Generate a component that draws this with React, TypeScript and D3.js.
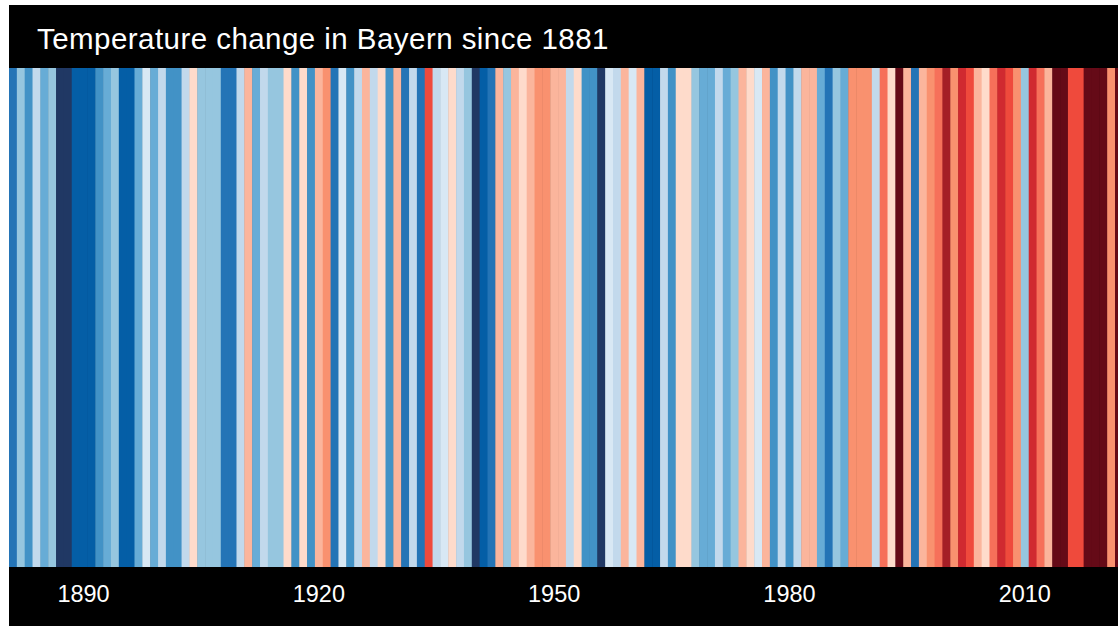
import React from 'react';
import * as d3 from 'd3';

// years shown in the stripes
const years: number[] = d3.range(1881, 2023);

// annual temperature anomaly (°C)
const anomalies: number[] = [
  -1.4, -0.6, -1.1, -0.4, -0.9, -0.6, -1.9, -1.9, -1.6, -1.6,
  -1.6, -1.1, -0.9, -0.6, -1.6, -1.6, -0.9, -0.1, -0.9, -0.4,
  -1.1, -1.1, -0.4, 0.1, -0.6, -0.6, -0.6, -1.4, -1.4, -0.4,
  0.4, -0.9, -0.4, -0.6, -0.6, 0.1, -1.1, 0.1, -1.1, 0.4,
  0.6, -1.4, -0.1, -1.1, -0.4, 0.4, -0.4, 0.1, -1.1, 0.4,
  -1.4, -0.4, -1.4, 1.1, -0.4, -0.1, 0.1, -0.4, -0.6, -1.9,
  -1.6, -1.4, 0.4, -0.6, 0.4, 0.1, 0.4, 0.6, 0.6, 0.4,
  0.4, -0.4, 0.1, -1.1, -1.1, -1.9, -0.1, -0.4, 0.4, -0.1,
  0.4, -1.6, -1.6, -0.4, -1.1, 0.1, 0.1, -0.6, -0.9, -0.9,
  -0.4, -0.9, -0.6, 0.4, 0.1, -0.1, 0.4, -1.1, -0.4, -1.1,
  -0.4, 0.4, 0.4, -0.9, -1.4, -0.6, -0.9, 0.6, 0.6, 0.6,
  -0.4, 0.9, 0.1, 1.9, 0.4, -1.4, 0.4, 0.6, 0.9, 1.6,
  0.6, 1.4, 1.1, 0.4, 0.1, 0.9, 1.4, 1.1, 0.6, -0.6,
  1.4, 0.9, 0.4, 1.9, 1.9, 1.1, 1.1, 1.9, 1.9, 1.9,
  0.6, 1.9
];

const tickYears: number[] = [1890, 1920, 1950, 1980, 2010];

const palette: string[] = [
  '#203864', '#045ea6', '#2474b6', '#4292c6', '#67acd6', '#96c6df', '#c2d9ec', '#d8e8f4',
  '#fedbcb', '#fbb59c', '#f9916f', '#f6705a', '#ef4a3c', '#d02a30', '#a51e26', '#650a17'
];

const title = 'Temperature change in Bayern since 1881';

const App: React.FC = () => {
  const stripeW = 7.844;
  const width = years.length * stripeW;
  const height = 630;
  const top = 63;
  const bottom = 562;

  const x = d3.scaleBand<number>()
    .domain(years)
    .range([0, width])
    .padding(0);

  const color = d3.scaleQuantize<string>()
    .domain([-2, 2])
    .range(palette);

  return (
    <div style={{ position: 'fixed', left: 0, top: 0, width: 1118, height: 626, overflow: 'hidden', background: '#fff' }}>
      <svg
        width={width}
        height={height}
        style={{ position: 'absolute', left: 9, top: 5, display: 'block' }}
      >
        <rect x={0} y={0} width={width} height={height} fill="#000" />
        <g>
          {years.map((yr, i) => (
            <rect
              key={yr}
              x={x(yr)}
              y={top}
              width={x.bandwidth() + 0.5}
              height={bottom - top}
              fill={color(anomalies[i])}
            />
          ))}
        </g>
        <text
          x={28}
          y={44}
          fill="#fff"
          fontFamily="'Liberation Sans', Arial, Helvetica, sans-serif"
          fontSize={29.5}
          letterSpacing={0.45}
        >
          {title}
        </text>
        <g fontFamily="'Liberation Sans', Arial, Helvetica, sans-serif" fontSize={23.5} fill="#fff">
          {tickYears.map(t => (
            <text key={t} x={(x(t) || 0) + x.bandwidth() / 2} y={589} dy="0.35em" textAnchor="middle">
              {t}
            </text>
          ))}
        </g>
      </svg>
    </div>
  );
};

export default App;
